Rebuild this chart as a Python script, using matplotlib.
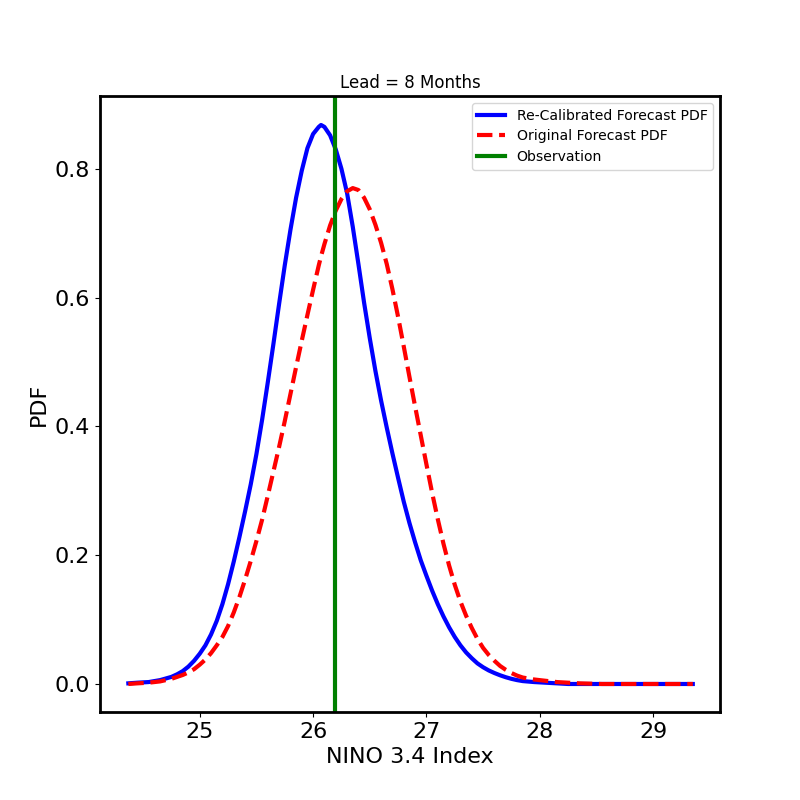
import matplotlib
matplotlib.use("Agg")
from matplotlib import pyplot as plt

# values
nino = [24.37, 24.45, 24.55, 24.65, 24.75, 24.80, 24.85, 24.90, 24.95, 25.00,
        25.05, 25.10, 25.15, 25.20, 25.25, 25.30, 25.35, 25.40, 25.45, 25.50,
        25.55, 25.60, 25.65, 25.70, 25.75, 25.80, 25.85, 25.90, 25.95, 26.00,
        26.05, 26.07, 26.10, 26.15, 26.20, 26.25, 26.30, 26.35, 26.40, 26.45,
        26.50, 26.55, 26.60, 26.65, 26.70, 26.75, 26.80, 26.85, 26.90, 26.95,
        27.00, 27.05, 27.10, 27.15, 27.20, 27.25, 27.30, 27.35, 27.40, 27.45,
        27.50, 27.55, 27.60, 27.65, 27.70, 27.75, 27.80, 27.85, 27.95, 28.05,
        28.15, 28.25, 28.35, 28.55, 28.85, 29.35]
recal_pdf = [0.001, 0.002, 0.003, 0.006, 0.011, 0.015, 0.020, 0.027, 0.036, 0.047,
             0.060, 0.077, 0.098, 0.124, 0.155, 0.190, 0.228, 0.268, 0.310, 0.357,
             0.410, 0.468, 0.528, 0.590, 0.650, 0.705, 0.755, 0.797, 0.832, 0.854,
             0.865, 0.868, 0.865, 0.852, 0.830, 0.800, 0.762, 0.710, 0.652, 0.592,
             0.537, 0.486, 0.440, 0.398, 0.358, 0.320, 0.283, 0.250, 0.220, 0.192,
             0.168, 0.145, 0.124, 0.105, 0.088, 0.073, 0.060, 0.049, 0.040, 0.032,
             0.026, 0.021, 0.017, 0.0135, 0.0105, 0.008, 0.006, 0.0045, 0.003, 0.002,
             0.001, 0.000, 0.000, 0.000, 0.000, 0.000]
orig_pdf = [0.000, 0.001, 0.002, 0.004, 0.008, 0.011, 0.014, 0.018, 0.023, 0.030,
            0.038, 0.048, 0.060, 0.073, 0.090, 0.111, 0.135, 0.162, 0.191, 0.222,
            0.255, 0.292, 0.330, 0.368, 0.408, 0.450, 0.492, 0.533, 0.573, 0.612,
            0.650, 0.664, 0.683, 0.712, 0.735, 0.753, 0.765, 0.770, 0.767, 0.755,
            0.737, 0.713, 0.685, 0.652, 0.613, 0.570, 0.524, 0.477, 0.431, 0.386,
            0.341, 0.297, 0.256, 0.218, 0.184, 0.154, 0.128, 0.106, 0.087, 0.070,
            0.056, 0.045, 0.036, 0.028, 0.022, 0.017, 0.013, 0.010, 0.007, 0.005,
            0.003, 0.002, 0.001, 0.000, 0.000, 0.000]
observation = 26.19

plt.figure(figsize=[8, 8])
ax = plt.gca()
ax.plot(nino, recal_pdf, 'b-', linewidth=3, label="Re-Calibrated Forecast PDF")
ax.plot(nino, orig_pdf, 'r--', linewidth=3, label="Original Forecast PDF")
ax.axvline(observation, color='g', linewidth=3, label="Observation")

ax.set_xlim(24.12, 29.59)
ax.set_ylim(-0.0435, 0.913)
ax.set_xticks([25, 26, 27, 28, 29])
ax.set_yticks([0.0, 0.2, 0.4, 0.6, 0.8])
ax.tick_params(labelsize=16)
ax.set_xlabel("NINO 3.4 Index", fontsize=16)
ax.set_ylabel("PDF", fontsize=16)
ax.set_title("Lead = 8 Months", fontsize=12)
ax.legend(loc="upper right", fontsize=10.05, labelspacing=0.48)
for spine in ax.spines.values():
    spine.set_linewidth(2)

plt.savefig("out.png", dpi=100)
